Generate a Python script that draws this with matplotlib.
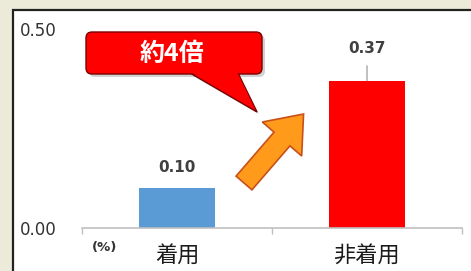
import matplotlib.pyplot as plt
from matplotlib.patches import FancyBboxPatch, Polygon, Rectangle, FancyArrow

plt.rcParams['font.family'] = ['DejaVu Sans', 'Noto Sans CJK JP']

categories = ['着用', '非着用']
values = [0.10, 0.37]
bar_colors = ['#5b9bd5', '#ff0000']
value_labels = ['0.10', '0.37']
yticks = [0.0, 0.5]
ytick_labels = ['0.00', '0.50']
callout_text = '約4倍'

W, H = 471, 271
fig = plt.figure(figsize=(W / 100, H / 100), dpi=100)
fig.patch.set_facecolor('#ecead8')

# white panel with dark frame (runs off the right and bottom edges)
frame = Rectangle((13 / W, -0.1), 1.2, 1.1 - 10 / H,
                  transform=fig.transFigure, facecolor='white',
                  edgecolor='#222222', linewidth=1.6, zorder=-5)
fig.patches.append(frame)

ax = fig.add_axes([82 / W, 43 / H, 380 / W, 199 / H])
ax.patch.set_visible(False)
x = list(range(len(categories)))
ax.bar(x, values, width=0.405, color=bar_colors, zorder=2)
ax.set_xlim(-0.5, 1.5)
ax.set_ylim(0, 0.5)

for s in ['top', 'right', 'left']:
    ax.spines[s].set_visible(False)
ax.spines['bottom'].set_color('#c0c0c0')
ax.spines['bottom'].set_linewidth(1.2)

ax.set_xticks([-0.5, 0.5, 1.5])
ax.set_xticklabels([])
ax.tick_params(axis='x', which='major', length=4, color='#c0c0c0', width=1)
ax.set_xticks(x, minor=True)
ax.set_xticklabels(categories, minor=True, family=['Noto Sans CJK JP'],
                   fontsize=16, color='#1a1a1a')
ax.tick_params(axis='x', which='minor', length=0, pad=12)

ax.set_yticks(yticks)
ax.set_yticklabels(ytick_labels, fontsize=12, color='#333333', ha='left')
ax.tick_params(axis='y', length=0, pad=44.6)

# value labels (0.37 sits higher with a leader line)
offsets = [21, 32]
for xi, v, lab, off in zip(x, values, value_labels, offsets):
    ax.annotate(lab, (xi, v), xytext=(0, off), textcoords='offset pixels',
                ha='center', va='center', fontsize=11, fontweight='bold',
                color='#404040')
ax.annotate('', (x[1], values[1]), xytext=(0, 15), textcoords='offset pixels',
            arrowprops=dict(arrowstyle='-', color='#909090', lw=0.8,
                            shrinkA=0, shrinkB=0))

ax.text(-0.38, -0.05, '(%)', fontsize=9.5, color='#333333', ha='center',
        va='center', fontweight='bold')

# overlay in pixel coordinates for the callout and arrow
ov = fig.add_axes([0, 0, 1, 1])
ov.set_xlim(0, W)
ov.set_ylim(H, 0)
ov.axis('off')

# callout shadow
ov.add_patch(FancyBboxPatch((89, 35), 176, 42,
                            boxstyle='round,pad=0,rounding_size=6',
                            facecolor='#000000', alpha=0.18, edgecolor='none'))
ov.add_patch(Polygon([(193, 76), (240, 76), (259, 114)], closed=True,
                     facecolor='#000000', alpha=0.18, edgecolor='none'))
# callout body
ov.add_patch(Polygon([(190, 73), (238, 73), (257, 112)], closed=True,
                     facecolor='#ff0000', edgecolor='#7a0000', lw=1.0))
ov.add_patch(FancyBboxPatch((86, 32), 176, 42,
                            boxstyle='round,pad=0,rounding_size=6',
                            facecolor='#ff0000', edgecolor='#7a0000', lw=1.0))
ov.add_patch(Polygon([(191, 72), (237, 72), (255, 109)], closed=True,
                     facecolor='#ff0000', edgecolor='none'))
ov.text(172, 54, callout_text, fontsize=18, fontweight='bold', color='white',
        ha='center', va='center', family=['Noto Sans CJK JP'])

# orange block arrow
ov.add_patch(FancyArrow(244, 183, 38, -44, width=21, head_width=52,
                        head_length=33, length_includes_head=False,
                        facecolor='#ff9a1a', edgecolor='#c8501a', lw=1.2))

fig.savefig('out.png', dpi=100, facecolor=fig.get_facecolor())
